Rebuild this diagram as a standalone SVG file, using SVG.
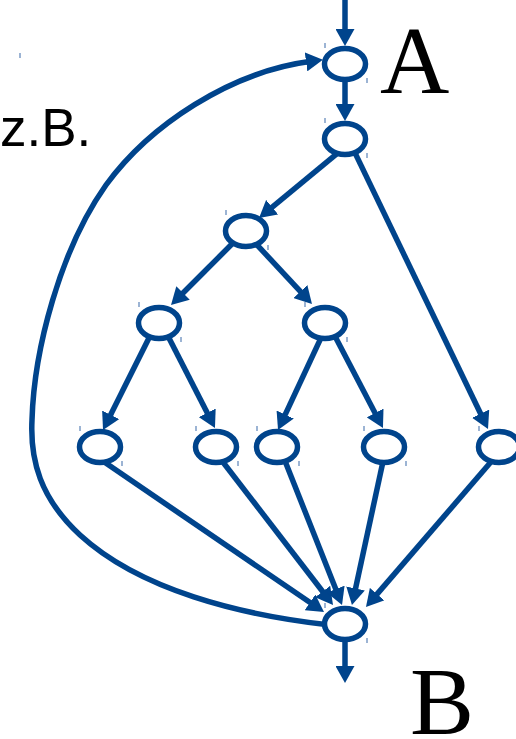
<svg xmlns="http://www.w3.org/2000/svg" width="516" height="739" viewBox="0 0 516 739">
<style>
.e{stroke:#00448c;stroke-width:5.5;fill:none;marker-end:url(#ah)}
.n{fill:#fff;stroke:#00448c;stroke-width:5.5}
.t{stroke:#5a82b8;stroke-width:1.2}
.lbl{font-family:"Liberation Serif","Times New Roman",serif;font-size:96px;fill:#000}
.zb{font-family:"Liberation Sans",Arial,sans-serif;font-size:53px;fill:#000}
</style>
<defs>
<marker id="ah" markerUnits="userSpaceOnUse" viewBox="0 0 17 19" markerWidth="17" markerHeight="19" refX="5" refY="9.5" orient="auto">
<path d="M0,0 L17,9.5 L0,19 Z" fill="#00448c"/>
</marker>
</defs>
<rect width="516" height="739" fill="#fff"/>
<g id="connectors">
<line class="e" x1="345" y1="0" x2="345" y2="34"/>
<line class="e" x1="345" y1="78" x2="345" y2="109"/>
<line class="e" x1="337.6" y1="153.2" x2="268.3" y2="210.4"/>
<line class="e" x1="354.4" y1="151.6" x2="482.8" y2="418.2"/>
<line class="e" x1="233.2" y1="242.8" x2="179.5" y2="296.5"/>
<line class="e" x1="254.9" y1="242.6" x2="303.8" y2="295.2"/>
<line class="e" x1="150.7" y1="334.6" x2="108.4" y2="419.3"/>
<line class="e" x1="167.3" y1="334.7" x2="209.5" y2="417.3"/>
<line class="e" x1="322.5" y1="334.6" x2="283.1" y2="419.1"/>
<line class="e" x1="334.2" y1="334.7" x2="377.4" y2="417.4"/>
<line class="e" x1="105" y1="462.6" x2="314.1" y2="605.2"/>
<line class="e" x1="222.3" y1="461.2" x2="325.7" y2="595.5"/>
<line class="e" x1="284.8" y1="460.4" x2="337.6" y2="593.8"/>
<line class="e" x1="383.3" y1="460.1" x2="354.5" y2="593.3"/>
<line class="e" x1="493.9" y1="458.5" x2="373.8" y2="597.9"/>
<line class="e" x1="345" y1="636" x2="345" y2="671"/>
<path class="e" d="M330,625 C240,615 140,590 80,535 C40,498 30,460 32,420 C34,350 60,250 106,185 C150,125 230,72 311,61.3"/>
</g>
<g id="A"><ellipse class="n" cx="345" cy="64" rx="20.5" ry="15.5"/><line class="t" x1="325" y1="43" x2="325" y2="48"/><line class="t" x1="367" y1="78" x2="367" y2="83"/></g>
<g id="n1"><ellipse class="n" cx="345" cy="139" rx="20.5" ry="15.5"/><line class="t" x1="325" y1="118" x2="325" y2="123"/><line class="t" x1="367" y1="153" x2="367" y2="158"/></g>
<g id="n2"><ellipse class="n" cx="246" cy="231" rx="20.5" ry="15.5"/><line class="t" x1="226" y1="210" x2="226" y2="215"/><line class="t" x1="268" y1="245" x2="268" y2="250"/></g>
<g id="n3"><ellipse class="n" cx="159" cy="323" rx="20.5" ry="15.5"/><line class="t" x1="139" y1="302" x2="139" y2="307"/><line class="t" x1="181" y1="337" x2="181" y2="342"/></g>
<g id="n4"><ellipse class="n" cx="325" cy="323" rx="20.5" ry="15.5"/><line class="t" x1="305" y1="302" x2="305" y2="307"/><line class="t" x1="347" y1="337" x2="347" y2="342"/></g>
<g id="l1"><ellipse class="n" cx="100" cy="447" rx="20.5" ry="15.5"/><line class="t" x1="80" y1="426" x2="80" y2="431"/><line class="t" x1="122" y1="461" x2="122" y2="466"/></g>
<g id="l2"><ellipse class="n" cx="216" cy="447" rx="20.5" ry="15.5"/><line class="t" x1="196" y1="426" x2="196" y2="431"/><line class="t" x1="238" y1="461" x2="238" y2="466"/></g>
<g id="l3"><ellipse class="n" cx="277" cy="447" rx="20.5" ry="15.5"/><line class="t" x1="257" y1="426" x2="257" y2="431"/><line class="t" x1="299" y1="461" x2="299" y2="466"/></g>
<g id="l4"><ellipse class="n" cx="384" cy="447" rx="20.5" ry="15.5"/><line class="t" x1="364" y1="426" x2="364" y2="431"/><line class="t" x1="406" y1="461" x2="406" y2="466"/></g>
<g id="l5"><ellipse class="n" cx="499" cy="447" rx="20.5" ry="15.5"/><line class="t" x1="479" y1="426" x2="479" y2="431"/></g>
<g id="B"><ellipse class="n" cx="345" cy="624" rx="20.5" ry="15.5"/><line class="t" x1="325" y1="603" x2="325" y2="608"/><line class="t" x1="367" y1="638" x2="367" y2="643"/></g>
<g id="labels">
<text class="lbl" x="380" y="93">A</text>
<text class="lbl" x="410" y="734">B</text>
<text class="zb" x="0" y="146">z.B.</text>
<line class="t" x1="20" y1="53" x2="20" y2="58"/>
</g>
</svg>
